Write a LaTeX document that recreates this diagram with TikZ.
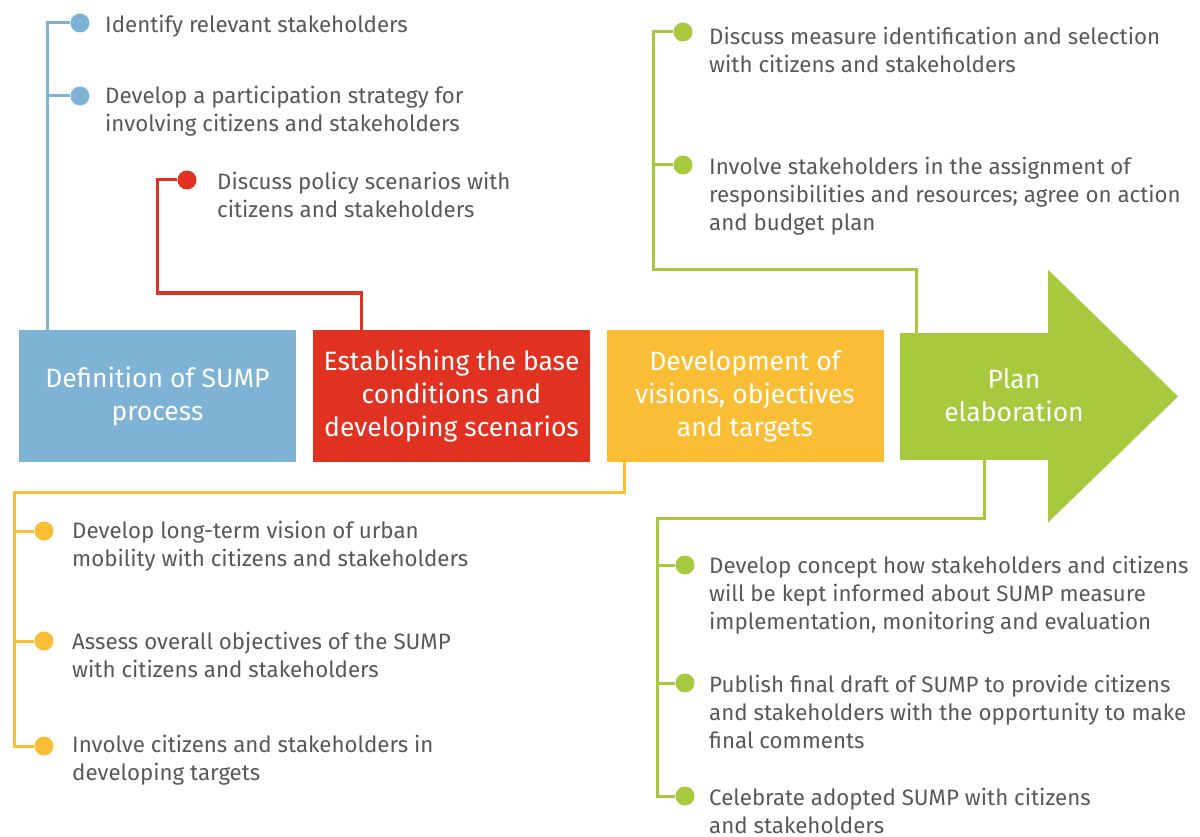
\documentclass[tikz,border=0pt]{standalone}
\usepackage{fontspec}
\setmainfont{Fira Sans}
\usetikzlibrary{positioning}
\definecolor{sumpblue}{HTML}{7FB3D5}
\definecolor{sumpred}{HTML}{E03121}
\definecolor{sumpyellow}{HTML}{F9BE36}
\definecolor{sumpgreen}{HTML}{A6C93D}
\definecolor{textgray}{HTML}{58585A}
\begin{document}
\begin{tikzpicture}[x=1pt,y=-1pt,
  stage/.style={minimum width=277pt,minimum height=132pt,inner sep=4pt,
    align=center,text=white,font=\fontsize{26.5}{33}\selectfont},
  dot/.style={circle,inner sep=0pt,minimum size=19pt,fill=#1},
  item/.style={anchor=west,align=left,inner sep=0pt,text=textgray,
    font=\fontsize{22.3}{28}\selectfont},
  link/.style={line width=3pt,draw=#1}]

\useasboundingbox (0,0) rectangle (1200,837);

% stages
\node[stage,fill=sumpblue] (def) at (157.5,396) {Definition of SUMP\\process};
\node[stage,fill=sumpred] (est) at (451.5,396) {Establishing the base\\conditions and\\developing scenarios};
\node[stage,fill=sumpyellow] (dev) at (745,396) {Development of\\visions, objectives\\and targets};
\node[minimum width=148pt,minimum height=127pt,inner sep=0pt,fill=sumpgreen] (planbody) at (974,396.5) {};
\fill[sumpgreen] (planbody.north east) -- ++(0,-63) -- (1178,396.5) -- ++(-130,126) -- (planbody.south east) -- cycle;
\node[stage,minimum width=0pt,minimum height=0pt] (plan) at (1014,395) {Plan\\elaboration};

% blue items
\node[dot=sumpblue] (bi1) at (80,23) {};
\node[dot=sumpblue] (bi2) at (80,96) {};
\node[item] (bt1) at (105,26) {Identify relevant stakeholders};
\node[item] (bt2) at (105,111) {Develop a participation strategy for\\involving citizens and stakeholders};
\draw[link=sumpblue] (def.north west) ++(29,0) |- (bi1);
\draw[link=sumpblue] (def.north west) ++(29,0) |- (bi2);

% red items
\node[dot=sumpred] (ri1) at (187,180) {};
\node[item] (rt1) at (217,194.5) {Discuss policy scenarios with\\citizens and stakeholders};
\coordinate (rc) at (157,293);
\draw[link=sumpred] (est.north west) ++(49,0) |- (rc) |- (ri1);

% yellow items
\node[dot=sumpyellow] (yi1) at (44,531) {};
\node[dot=sumpyellow] (yi2) at (44,641) {};
\node[dot=sumpyellow] (yi3) at (44,746) {};
\node[item] (yt1) at (72,546.5) {Develop long-term vision of urban\\mobility with citizens and stakeholders};
\node[item] (yt2) at (72,654.5) {Assess overall objectives of the SUMP\\with citizens and stakeholders};
\node[item] (yt3) at (72,760.5) {Involve citizens and stakeholders in\\developing targets};
\coordinate (yc) at (14,492);
\draw[link=sumpyellow] (dev.south west) ++(18,0) |- (yc) |- (yi3);
\draw[link=sumpyellow] (yc) |- (yi1);
\draw[link=sumpyellow] (yc) |- (yi2);

% green items, top
\node[dot=sumpgreen] (gi1) at (683,32) {};
\node[dot=sumpgreen] (gi2) at (683,165) {};
\node[item] (gt1) at (709,50) {Discuss measure identification and selection\\with citizens and stakeholders};
\node[item] (gt2) at (709,196) {Involve stakeholders in the assignment of\\responsibilities and resources; agree on action\\and budget plan};
\coordinate (gc1) at (653,270);
\draw[link=sumpgreen] (planbody.north west) ++(17,0) |- (gc1) |- (gi1);
\draw[link=sumpgreen] (gc1) |- (gi2);

% green items, bottom
\node[dot=sumpgreen] (gi3) at (685,565) {};
\node[dot=sumpgreen] (gi4) at (685,683) {};
\node[dot=sumpgreen] (gi5) at (685,796) {};
\node[item] (gt3) at (709,595) {Develop concept how stakeholders and citizens\\will be kept informed about SUMP measure\\implementation, monitoring and evaluation};
\node[item] (gt4) at (709,711.5) {Publish final draft of SUMP to provide citizens\\and stakeholders with the opportunity to make\\final comments};
\node[item] (gt5) at (709,810.5) {Celebrate adopted SUMP with citizens\\and stakeholders};
\coordinate (gc2) at (657,518);
\draw[link=sumpgreen] (planbody.south west) ++(85,0) |- (gc2) |- (gi5);
\draw[link=sumpgreen] (gc2) |- (gi3);
\draw[link=sumpgreen] (gc2) |- (gi4);
\end{tikzpicture}
\end{document}
